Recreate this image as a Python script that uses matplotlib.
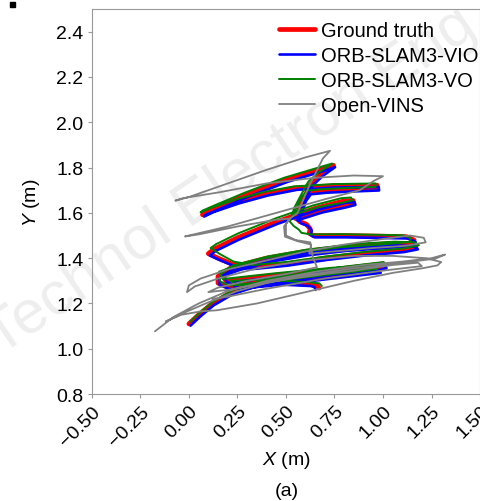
import numpy as np
import matplotlib
matplotlib.use("Agg")
from matplotlib import pyplot as plt
from matplotlib.patches import Rectangle

plt.rcParams['font.family'] = ['Liberation Sans', 'DejaVu Sans']
plt.rcParams['mathtext.fontset'] = 'custom'
plt.rcParams['mathtext.rm'] = 'Liberation Sans'
plt.rcParams['mathtext.it'] = 'Liberation Sans:italic'

# trajectories, (x, y) in metres
ground_truth = [
    (0.00, 1.11), (0.05, 1.15), (0.12, 1.20), (0.22, 1.25), (0.40, 1.30), (0.60, 1.33), (0.80, 1.355), (0.95, 1.37), (1.00, 1.375), (1.01, 1.362),
    (0.95, 1.352), (0.75, 1.335), (0.50, 1.305), (0.30, 1.275), (0.20, 1.272), (0.15, 1.29), (0.15, 1.32),
    (0.22, 1.36), (0.40, 1.40), (0.60, 1.43), (0.85, 1.455), (1.05, 1.465), (1.15, 1.46), (1.17, 1.447),
    (1.10, 1.435), (0.90, 1.42), (0.70, 1.40), (0.50, 1.375), (0.32, 1.36), (0.22, 1.375), (0.15, 1.40), (0.10, 1.42),
    (0.13, 1.44), (0.25, 1.49), (0.45, 1.56), (0.65, 1.62), (0.80, 1.653), (0.845, 1.655), (0.85, 1.643),
    (0.80, 1.632), (0.68, 1.61), (0.55, 1.575),
    (0.56, 1.60), (0.59, 1.66), (0.625, 1.725), (0.68, 1.77), (0.745, 1.81),
    (0.70, 1.797), (0.50, 1.745), (0.30, 1.68), (0.15, 1.625), (0.08, 1.60), (0.07, 1.592),
    (0.12, 1.612), (0.25, 1.65), (0.40, 1.685), (0.55, 1.71), (0.75, 1.72), (0.97, 1.722), (0.972, 1.707), (0.85, 1.703), (0.70, 1.697), (0.62, 1.69),
    (0.595, 1.66), (0.575, 1.61), (0.555, 1.58), (0.57, 1.562), (0.605, 1.55), (0.625, 1.53), (0.62, 1.51), (0.64, 1.50),
    (0.80, 1.50), (1.00, 1.497), (1.12, 1.495), (1.16, 1.48), (1.15, 1.463),
    (1.00, 1.452), (0.80, 1.44), (0.60, 1.42), (0.40, 1.39), (0.25, 1.355), (0.17, 1.33), (0.19, 1.30), (0.45, 1.325), (0.75, 1.35),
    (0.95, 1.357), (0.98, 1.343), (0.80, 1.325), (0.60, 1.305), (0.40, 1.285), (0.25, 1.275), (0.22, 1.29), (0.35, 1.295), (0.50, 1.29),
    (0.62, 1.285), (0.66, 1.28), (0.67, 1.268),
]

orb_vio = [
    (0.008, 1.102), (0.058, 1.142), (0.128, 1.192), (0.228, 1.242), (0.408, 1.292), (0.608, 1.322), (0.808, 1.347), (0.958, 1.362), (1.008, 1.368), (1.018, 1.355),
    (0.958, 1.344), (0.758, 1.327), (0.508, 1.297), (0.308, 1.267), (0.208, 1.264), (0.158, 1.282), (0.158, 1.313),
    (0.228, 1.352), (0.408, 1.392), (0.608, 1.422), (0.858, 1.447), (1.058, 1.457), (1.16, 1.452), (1.18, 1.439),
    (1.108, 1.427), (0.908, 1.412), (0.708, 1.392), (0.508, 1.367), (0.328, 1.352), (0.228, 1.367), (0.158, 1.392), (0.108, 1.412),
    (0.138, 1.432), (0.258, 1.482), (0.458, 1.552), (0.658, 1.612), (0.808, 1.645), (0.853, 1.647), (0.858, 1.635),
    (0.808, 1.624), (0.688, 1.602), (0.558, 1.567),
    (0.568, 1.592), (0.598, 1.652), (0.633, 1.717), (0.688, 1.762), (0.753, 1.802),
    (0.708, 1.789), (0.508, 1.737), (0.308, 1.672), (0.158, 1.617), (0.088, 1.592), (0.078, 1.584),
    (0.128, 1.604), (0.258, 1.642), (0.408, 1.677), (0.558, 1.702), (0.758, 1.712), (0.978, 1.714), (0.98, 1.699), (0.858, 1.695), (0.708, 1.689), (0.628, 1.682),
    (0.603, 1.652), (0.583, 1.602), (0.563, 1.572), (0.578, 1.554), (0.613, 1.542), (0.633, 1.522), (0.628, 1.502), (0.648, 1.492),
    (0.808, 1.492), (1.008, 1.489), (1.128, 1.487), (1.168, 1.472), (1.158, 1.455),
    (1.008, 1.444), (0.808, 1.432), (0.608, 1.412), (0.408, 1.382), (0.258, 1.347), (0.178, 1.322), (0.198, 1.292), (0.458, 1.317), (0.758, 1.342),
    (0.958, 1.349), (0.988, 1.335), (0.808, 1.317), (0.608, 1.297), (0.408, 1.277), (0.258, 1.267), (0.228, 1.282), (0.358, 1.287), (0.508, 1.282),
    (0.628, 1.277), (0.648, 1.272), (0.652, 1.26),
]

orb_vo = [
    (0.004, 1.118), (0.054, 1.158), (0.124, 1.208), (0.224, 1.258), (0.404, 1.308), (0.604, 1.338), (0.804, 1.363), (0.954, 1.378), (1.004, 1.383), (1.012, 1.37),
    (0.954, 1.36), (0.754, 1.343), (0.504, 1.313), (0.304, 1.283), (0.204, 1.28), (0.16, 1.298), (0.16, 1.328),
    (0.228, 1.368), (0.408, 1.408), (0.608, 1.438), (0.858, 1.463), (1.06, 1.473), (1.165, 1.47), (1.185, 1.457),
    (1.115, 1.444), (0.91, 1.428), (0.71, 1.408), (0.51, 1.384), (0.33, 1.37), (0.23, 1.385), (0.16, 1.418), (0.112, 1.445),
    (0.14, 1.462), (0.255, 1.51), (0.45, 1.577), (0.64, 1.633), (0.785, 1.665), (0.835, 1.668), (0.842, 1.655),
    (0.79, 1.645), (0.665, 1.625), (0.535, 1.592),
    (0.54, 1.618), (0.575, 1.675), (0.615, 1.738), (0.67, 1.78), (0.738, 1.818),
    (0.69, 1.806), (0.49, 1.755), (0.29, 1.69), (0.14, 1.636), (0.07, 1.61), (0.06, 1.602),
    (0.11, 1.621), (0.24, 1.659), (0.39, 1.693), (0.54, 1.717), (0.74, 1.727), (0.962, 1.73), (0.962, 1.715), (0.84, 1.711), (0.69, 1.705), (0.607, 1.698),
    (0.58, 1.668), (0.555, 1.622), (0.53, 1.588), (0.52, 1.562), (0.54, 1.542), (0.565, 1.527), (0.58, 1.512), (0.625, 1.505),
    (0.785, 1.506), (0.985, 1.503), (1.105, 1.501), (1.145, 1.487), (1.135, 1.471),
    (0.985, 1.46), (0.785, 1.449), (0.585, 1.429), (0.385, 1.40), (0.235, 1.365), (0.155, 1.34), (0.175, 1.308), (0.44, 1.333), (0.74, 1.358),
    (0.94, 1.366), (0.97, 1.352), (0.79, 1.334), (0.59, 1.314), (0.39, 1.294), (0.24, 1.284), (0.212, 1.30), (0.342, 1.304), (0.492, 1.30),
    (0.612, 1.294), (0.672, 1.289), (0.685, 1.277),
]

open_vins = [
    (-0.175, 1.077), (-0.08, 1.14), (0.05, 1.20), (0.20, 1.255), (0.40, 1.30), (0.65, 1.34), (0.90, 1.37), (1.10, 1.385), (1.25, 1.40), (1.32, 1.416),
    (1.27, 1.398), (1.10, 1.38), (0.85, 1.355), (0.60, 1.325), (0.40, 1.29), (0.25, 1.255), (0.10, 1.205), (-0.05, 1.15), (-0.12, 1.12),
    (-0.04, 1.15), (0.06, 1.165), (0.144, 1.17), (0.35, 1.20), (0.60, 1.25), (0.85, 1.30), (1.05, 1.335), (1.20, 1.355), (1.28, 1.368), (1.30, 1.383),
    (1.22, 1.40), (1.05, 1.41), (0.85, 1.41), (0.60, 1.39), (0.35, 1.355), (0.15, 1.31), (0.03, 1.275), (-0.01, 1.25), (0.00, 1.28), (0.06, 1.31),
    (0.20, 1.35), (0.40, 1.39), (0.60, 1.43), (0.80, 1.46), (1.00, 1.485), (1.14, 1.50), (1.21, 1.49), (1.22, 1.47), (1.12, 1.455), (0.95, 1.445), (0.75, 1.43), (0.62, 1.42),
    (0.63, 1.46), (0.56, 1.475), (0.495, 1.495), (0.49, 1.54), (0.52, 1.575), (0.56, 1.60), (0.62, 1.72), (0.69, 1.84), (0.727, 1.874),
    (0.60, 1.845), (0.40, 1.79), (0.20, 1.73), (0.00, 1.67), (-0.07, 1.654), (-0.03, 1.665),
    (0.15, 1.69), (0.40, 1.73), (0.65, 1.755), (0.85, 1.765), (1.00, 1.762), (0.95, 1.74), (0.88, 1.70),
    (0.70, 1.66), (0.45, 1.60), (0.20, 1.54), (0.00, 1.50), (-0.02, 1.496), (0.05, 1.505), (0.25, 1.54), (0.45, 1.57), (0.52, 1.575),
    (0.50, 1.55), (0.50, 1.50), (0.55, 1.48), (0.625, 1.47), (0.64, 1.40), (0.66, 1.36),
    (0.50, 1.33), (0.30, 1.30), (0.15, 1.27), (0.10, 1.25), (0.20, 1.26), (0.45, 1.30), (0.70, 1.33), (0.85, 1.345),
    (1.05, 1.37), (1.18, 1.38), (1.20, 1.365), (1.00, 1.345), (0.70, 1.31), (0.40, 1.265), (0.20, 1.23), (0.12, 1.22),
]

series_names = ['Ground truth', 'ORB-SLAM3-VIO', 'ORB-SLAM3-VO', 'Open-VINS']
series_data = [ground_truth, orb_vio, orb_vo, open_vins]
series_colors = ['#ff0000', '#0000ff', '#008000', '#808080']
series_widths = [3.4, 1.9, 1.4, 1.3]

x_ticks = [-0.5, -0.25, 0.0, 0.25, 0.5, 0.75, 1.0, 1.25, 1.5]
y_ticks = [0.8, 1.0, 1.2, 1.4, 1.6, 1.8, 2.0, 2.2, 2.4]

fig = plt.figure(figsize=(4.81, 5.02), dpi=100)
ax = fig.add_axes([0.191, 0.213, 0.807, 0.767])
ax.set_facecolor('none')

# faint journal watermark behind the curves
fig.text(0.0, 0.29, 'Technol Electron Eng', fontsize=44, color='#000000',
         alpha=0.07, rotation=34, ha='left', va='baseline',
         rotation_mode='anchor', zorder=-1)

for name, pts, col, lw in zip(series_names, series_data, series_colors, series_widths):
    xs, ys = zip(*pts)
    ax.plot(xs, ys, color=col, lw=lw, label=name, solid_capstyle='round', solid_joinstyle='round')

ax.set_xlim(-0.5, 1.5)
ax.set_ylim(0.8, 2.5)
ax.set_xticks(x_ticks)
ax.set_xticklabels(['%.2f' % v if v >= 0 else '\u2212%.2f' % -v for v in x_ticks],
                   rotation=45, ha='right', rotation_mode='anchor')
ax.set_yticks(y_ticks)
ax.set_yticklabels(['%.1f' % v for v in y_ticks])
ax.tick_params(labelsize=14, color='#999999', length=3, width=0.8, pad=3)
for sp in ax.spines.values():
    sp.set_color('#999999')
    sp.set_linewidth(0.8)

ax.set_xlabel(r'$X$ (m)', fontsize=14, labelpad=0)
ax.set_ylabel(r'$Y$ (m)', fontsize=14, labelpad=10)
fig.text(0.597, 0.02, '(a)', fontsize=14, ha='center', va='center')

ax.legend(loc='upper right', bbox_to_anchor=(0.995, 0.968), frameon=False, fontsize=14.5,
          handlelength=1.75, handletextpad=0.3, labelspacing=0.3, borderaxespad=0, borderpad=0)

fig.patches.append(Rectangle((10 / 481, 1 - 8 / 502), 5 / 481, 5 / 502,
                             transform=fig.transFigure, color='black'))

fig.savefig('out.png', dpi=100)
